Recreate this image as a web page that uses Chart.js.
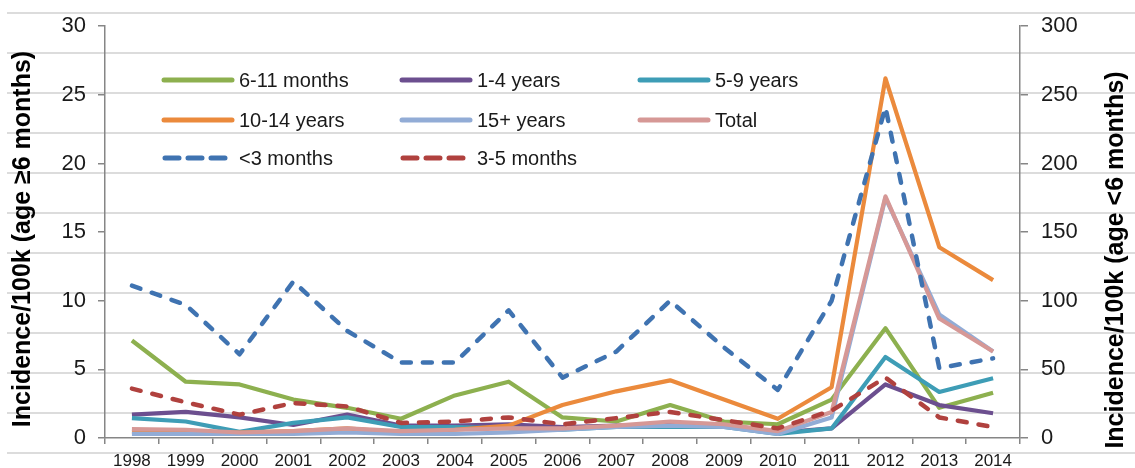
<!DOCTYPE html>
<html>
<head>
<meta charset="utf-8">
<script src="https://cdn.jsdelivr.net/npm/chart.js@4.4.1/dist/chart.umd.min.js"></script>
<style>
  html, body { margin: 0; padding: 0; background: #ffffff; }
  #wrap { position: relative; width: 1135px; height: 468px; }
</style>
</head>
<body>
<div id="wrap"><canvas id="c" width="1135" height="468"></canvas></div>
<script>
const years = ['1998','1999','2000','2001','2002','2003','2004','2005','2006','2007','2008','2009','2010','2011','2012','2013','2014'];
const m6to11 = [7.1,4.1,3.9,2.8,2.2,1.4,3.1,4.1,1.5,1.2,2.4,1.2,1.0,2.8,8.0,2.2,3.3];
const y1to4 = [1.7,1.9,1.5,0.95,1.7,0.9,0.9,1.0,0.8,0.9,1.0,0.9,0.4,0.7,3.9,2.4,1.8];
const y5to9 = [1.45,1.2,0.45,1.1,1.5,0.8,0.8,0.7,0.6,0.8,0.8,0.8,0.3,0.7,5.9,3.35,4.35];
const y10to14 = [0.45,0.45,0.4,0.5,0.7,0.4,0.6,0.9,2.4,3.4,4.2,2.8,1.4,3.7,26.2,13.9,11.5];
const y15plus = [0.3,0.3,0.3,0.3,0.4,0.3,0.3,0.4,0.6,0.8,0.9,0.8,0.3,1.5,17.5,9.0,6.3];
const total = [0.65,0.6,0.4,0.5,0.7,0.5,0.6,0.7,0.7,0.9,1.2,1.0,0.5,1.9,17.6,8.7,6.3];
const lt3m = [111,97,61,114,78,55,55,93,44,63,100,66,35,100,241,51,58];
const m3to5 = [36,26,17,25.5,23,11,12,15,10,14.5,19,13,7,20,44,15,8];

const leftTicks = [0,5,10,15,20,25,30];
const rightTicks = [0,50,100,150,200,250,300];
const leftTitle = 'Incidence/100k (age \u22656 months)';
const rightTitle = 'Incidence/100k (age <6 months)';

const FONT = "'Liberation Sans', Arial, sans-serif";

const series = [
  {label:'6-11 months', data:m6to11, color:'#8db04f', axis:'y', dash:false, order:7},
  {label:'1-4 years', data:y1to4, color:'#6c4f8f', axis:'y', dash:false, order:6},
  {label:'5-9 years', data:y5to9, color:'#3e9db6', axis:'y', dash:false, order:5},
  {label:'10-14 years', data:y10to14, color:'#eb8a3c', axis:'y', dash:false, order:4},
  {label:'15+ years', data:y15plus, color:'#92acd6', axis:'y', dash:false, order:3},
  {label:'Total', data:total, color:'#d69896', axis:'y', dash:false, order:2},
  {label:'<3 months', data:lt3m, color:'#3f73b1', axis:'y1', dash:true, order:1},
  {label:'3-5 months', data:m3to5, color:'#b0413e', axis:'y1', dash:true, order:0}
];

const datasets = series.map(s => ({
  label: s.label,
  data: s.data,
  yAxisID: s.axis,
  borderColor: s.color,
  backgroundColor: s.color,
  borderWidth: s.dash ? 4.5 : 4.2,
  borderDash: s.dash ? [9, 12] : [],
  borderCapStyle: s.dash ? 'round' : 'butt',
  borderJoinStyle: 'round',
  pointRadius: 0,
  tension: 0,
  fill: false,
  order: s.order
}));

const bgLines = {
  id: 'bgLines',
  beforeDraw(chart) {
    const ctx = chart.ctx;
    ctx.save();
    ctx.fillStyle = '#ffffff';
    ctx.fillRect(0, 0, chart.width, chart.height);
    ctx.strokeStyle = '#dcdcdc';
    ctx.lineWidth = 2;
    for (let y = 13; y < chart.height; y += 40) {
      ctx.beginPath();
      ctx.moveTo(7, y);
      ctx.lineTo(chart.width, y);
      ctx.stroke();
    }
    ctx.restore();
  }
};

const legendPos = [
  [162, 80], [400, 80], [638, 80],
  [162, 120], [400, 120], [638, 120],
  [162, 158], [400, 158]
];

const legendAndTitles = {
  id: 'legendAndTitles',
  afterDraw(chart) {
    const ctx = chart.ctx;
    ctx.save();
    series.forEach((s, i) => {
      const [x, y] = legendPos[i];
      ctx.beginPath();
      ctx.strokeStyle = s.color;
      if (s.dash) {
        ctx.lineWidth = 5;
        ctx.lineCap = 'round';
        ctx.setLineDash([14, 9]);
        ctx.moveTo(x + 3, y);
        ctx.lineTo(x + 68, y);
      } else {
        ctx.lineWidth = 5;
        ctx.lineCap = 'round';
        ctx.setLineDash([]);
        ctx.moveTo(x + 2, y);
        ctx.lineTo(x + 70, y);
      }
      ctx.stroke();
      ctx.setLineDash([]);
      ctx.fillStyle = '#1a1a1a';
      ctx.font = '20px ' + FONT;
      ctx.textBaseline = 'middle';
      ctx.textAlign = 'left';
      ctx.fillText(s.label, x + 77, y + 1);
    });
    ctx.font = 'bold 25px ' + FONT;
    ctx.fillStyle = '#000000';
    ctx.textAlign = 'center';
    ctx.textBaseline = 'middle';
    ctx.save();
    ctx.translate(23, 239);
    ctx.rotate(-Math.PI / 2);
    ctx.fillText(leftTitle, 0, 0);
    ctx.restore();
    ctx.save();
    ctx.translate(1116, 260);
    ctx.rotate(-Math.PI / 2);
    ctx.fillText(rightTitle, 0, 0);
    ctx.restore();
    ctx.restore();
  }
};

new Chart(document.getElementById('c'), {
  type: 'line',
  data: { labels: years, datasets },
  options: {
    responsive: false,
    animation: false,
    devicePixelRatio: 1,
    layout: { padding: { top: 25, bottom: 0, left: 0, right: 0 } },
    plugins: { legend: { display: false }, tooltip: { enabled: false }, title: { display: false } },
    scales: {
      x: {
        type: 'category',
        offset: true,
        grid: { offset: true, drawOnChartArea: false, drawTicks: true, tickLength: 6, color: '#868686', lineWidth: 1.5 },
        border: { color: '#868686', width: 1.5 },
        ticks: { color: '#1a1a1a', font: { family: FONT, size: 17 }, padding: 7, maxRotation: 0, autoSkip: false },
        afterFit(scale) { scale.height = 30; }
      },
      y: {
        position: 'left',
        min: 0, max: 30,
        afterBuildTicks(scale) { scale.ticks = leftTicks.map(v => ({ value: v })); },
        grid: { drawOnChartArea: false, drawTicks: true, tickLength: 7, color: '#868686', lineWidth: 1.5 },
        border: { color: '#868686', width: 1.5 },
        ticks: { color: '#1a1a1a', font: { family: FONT, size: 22 }, padding: 12 },
        afterFit(scale) { scale.width = 105; }
      },
      y1: {
        position: 'right',
        min: 0, max: 300,
        afterBuildTicks(scale) { scale.ticks = rightTicks.map(v => ({ value: v })); },
        grid: { drawOnChartArea: false, drawTicks: true, tickLength: 8, color: '#868686', lineWidth: 1.5 },
        border: { color: '#868686', width: 1.5 },
        ticks: { color: '#1a1a1a', font: { family: FONT, size: 22 }, padding: 13 },
        afterFit(scale) { scale.width = 115; }
      }
    }
  },
  plugins: [bgLines, legendAndTitles]
});
</script>
</body>
</html>
